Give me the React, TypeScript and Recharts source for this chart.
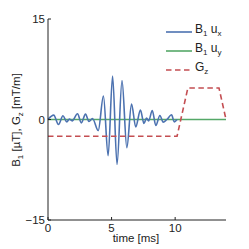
import React from 'react';
import { LineChart, Line, XAxis, YAxis, Legend } from 'recharts';

// B1 ux pulse, read at its peaks and troughs (ms, µT)
const uxTimes = [0, 0.45, 0.82, 1.18, 1.48, 1.68, 1.9, 2.32, 2.62, 2.95, 3.22, 3.5, 3.95, 4.36, 4.73, 5.08, 5.43, 5.82, 6.2, 6.57, 6.9, 7.27, 7.55, 7.75, 7.92, 8.2, 8.48, 8.8, 9.06, 9.35, 9.72, 9.93, 10.15];
const uxValues = [0, 0.65, -0.75, 0.55, -0.35, 0.05, -0.2, 0.85, -0.5, 0.8, -0.3, 0.15, -1.65, 3.5, -5.4, 6.5, -6.7, 5.8, -4.2, 2.3, -1.1, 1.4, -0.6, 0.2, -0.2, 1.35, -0.9, 0.6, -0.4, 0.0, 0.7, -0.35, 0];

// B1 uy stays at zero
const uyTimes = [0, 14];
const uyValues = [0, 0];

// Gz gradient (mT/m)
const gzTimes = [0, 10.15, 11.0, 13.45, 14];
const gzValues = [-2.5, -2.5, 4.7, 4.7, 0];

const xTicks = [0, 5, 10];
const yTicks = [-15, 0, 15];

const toPoints = (ts: number[], vs: number[]) => ts.map((t, i) => ({ t, v: vs[i] }));
const uxData = toPoints(uxTimes, uxValues);
const uyData = toPoints(uyTimes, uyValues);
const gzData = toPoints(gzTimes, gzValues);

const BLUE = '#4C72B0';
const GREEN = '#55A868';
const RED = '#C44E52';
const INK = '#222';
const FONT = '"Liberation Sans", Arial, sans-serif';

const fmtTick = (v: number) => (v < 0 ? `\u2212${-v}` : `${v}`);

function YLabel() {
  return (
    <text x={20} y={120} transform="rotate(-90 20 120)" textAnchor="middle" fontSize={11.5} fill={INK} fontFamily={FONT}>
      B<tspan dy={3} fontSize={8}>1</tspan>
      <tspan dy={-3}> [µT], G</tspan>
      <tspan dy={3} fontSize={8}>z</tspan>
      <tspan dy={-3}> [mT/m]</tspan>
    </text>
  );
}

function XLabel() {
  return (
    <text x={136} y={242} textAnchor="middle" fontSize={11.5} fill={INK} fontFamily={FONT}>
      time [ms]
    </text>
  );
}

const legendRows = [
  { color: BLUE, dash: undefined, main: 'B', sub: '1', rest: ' u', sub2: 'x' },
  { color: GREEN, dash: undefined, main: 'B', sub: '1', rest: ' u', sub2: 'y' },
  { color: RED, dash: '5.5 3.5', main: 'G', sub: 'z', rest: '', sub2: '' },
];

function LegendBox() {
  return (
    <div style={{ fontFamily: FONT, fontSize: 12, color: INK }}>
      {legendRows.map((r, i) => (
        <div key={i} style={{ display: 'flex', alignItems: 'center', height: 19 }}>
          <svg width={29} height={6}>
            <line x1={0} y1={3} x2={26} y2={3} stroke={r.color} strokeWidth={1.6} strokeDasharray={r.dash} />
          </svg>
          <span style={{ lineHeight: '12px' }}>
            {r.main}<sub style={{ fontSize: 8 }}>{r.sub}</sub>
            {r.rest}{r.sub2 && <sub style={{ fontSize: 8 }}>{r.sub2}</sub>}
          </span>
        </div>
      ))}
    </div>
  );
}

export default function App() {
  return (
    <div>
      <style>{'body{margin:0}'}</style>
      <LineChart width={249} height={249} margin={{ top: 19, right: 23, bottom: 9, left: 8 }}>
        <XAxis
          dataKey="t"
          type="number"
          domain={[0, 14]}
          ticks={xTicks}
          height={20}
          stroke={INK}
          tickSize={-3}
          tickMargin={7}
          tick={{ fontSize: 11.5, fill: INK, fontFamily: FONT }}
          label={<XLabel />}
        />
        <XAxis xAxisId="top" orientation="top" type="number" domain={[0, 14]} height={0} tick={false} stroke={INK} />
        <YAxis
          type="number"
          domain={[-15, 15]}
          ticks={yTicks}
          width={40}
          stroke={INK}
          tickSize={-3}
          tickMargin={6}
          tickFormatter={fmtTick}
          tick={{ fontSize: 11.5, fill: INK, fontFamily: FONT }}
          label={<YLabel />}
        />
        <YAxis yAxisId="right" orientation="right" type="number" domain={[-15, 15]} width={0} tick={false} stroke={INK} />
        <Legend
          layout="horizontal"
          verticalAlign="middle"
          align="center"
          content={() => <LegendBox />}
          wrapperStyle={{ left: 166, top: 22.5, width: 60, height: 57 }}
        />
        <Line data={uyData} dataKey="v" type="linear" stroke={GREEN} strokeWidth={1.6} dot={false} isAnimationActive={false} />
        <Line data={uxData} dataKey="v" type="monotone" stroke={BLUE} strokeWidth={1.6} dot={false} isAnimationActive={false} />
        <Line data={gzData} dataKey="v" type="linear" stroke={RED} strokeWidth={1.6} strokeDasharray="5.5 3.5" dot={false} isAnimationActive={false} />
      </LineChart>
    </div>
  );
}
